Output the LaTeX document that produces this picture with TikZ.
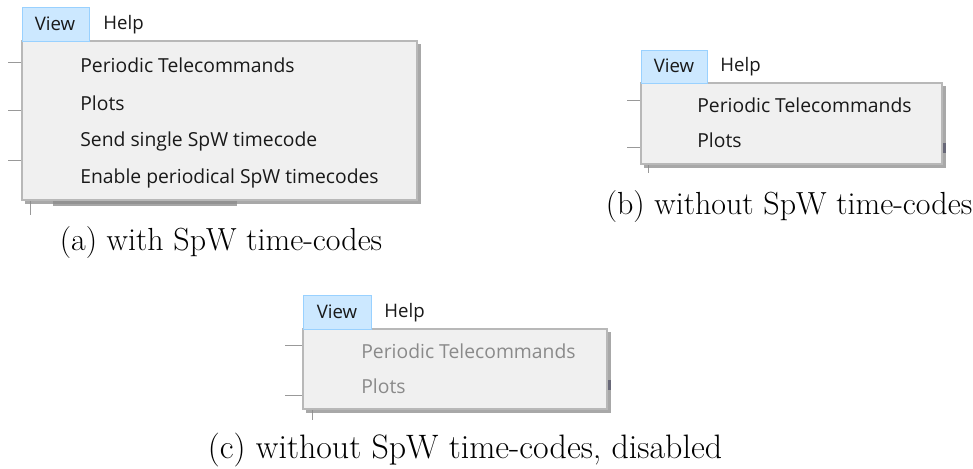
\documentclass[tikz,border=0pt]{standalone}
\usepackage{fontspec}
\newfontfamily\uifont{Open Sans}
\usetikzlibrary{positioning}

\definecolor{hiblue}{HTML}{CCE8FF}
\definecolor{hiedge}{HTML}{99D1FF}
\definecolor{menubg}{HTML}{F0F0F0}
\definecolor{menuedge}{HTML}{B8B8B8}
\definecolor{shade}{HTML}{8C8C8C}
\definecolor{dimtext}{HTML}{8A8A8A}

\begin{document}
\begin{tikzpicture}[x=0.02cm,y=-0.02cm,
    menu box/.style={fill=menubg,draw=menuedge,line width=0.6pt},
    menu shade/.style={fill=shade,draw=none,opacity=0.75},
    hi box/.style={fill=hiblue,draw=hiedge,line width=0.5pt},
    bar text/.style={font=\uifont\fontsize{10.6}{12}\selectfont,text=black!90,inner sep=0pt},
    item/.style={font=\uifont\fontsize{11}{13}\selectfont,text=black!90,anchor=west,inner sep=0pt},
    dim item/.style={item,text=dimtext},
    bg line/.style={draw=black!40,line width=0.5pt},
    caption/.style={font=\fontsize{18.2}{22}\selectfont,inner sep=0pt}]

  \useasboundingbox[fill=white] (0,0) rectangle (973,468);

  % (a) with time-codes
  \draw[bg line] (8,62) -- (22,62) (8,110) -- (22,110) (8,160) -- (22,160);
  \draw[bg line] (30,200) -- (30,215);
  \fill[black!35] (53,200) rectangle (237,206);
  \fill[menu shade] (25,44) rectangle (421,204);
  \draw[menu box] (22,41) rectangle (417,200);
  \draw[hi box] (22,7) rectangle (89,41);
  \node[bar text] (viewA) at (55,24) {View};
  \node[bar text,anchor=west] (helpA) at (103,25) {Help};
  \node[item] (tcA) at (80,65) {Periodic Telecommands};
  \node[item] (plotA) at (80,103) {Plots};
  \node[item] (sendA) at (80,141) {Send single SpW timecode};
  \node[item] (enA) at (80,178) {Enable periodical SpW timecodes};
  \node[caption] (capA) at (221,243) {(a) with SpW time-codes};

  % (b) without time-codes
  \draw[bg line] (627,100) -- (641,100) (627,147) -- (641,147);
  \draw[bg line] (648,164) -- (648,173);
  \fill[black!75!blue] (943,143) rectangle (946,153);
  \fill[menu shade] (644,86) rectangle (946,168);
  \draw[menu box] (641,83) rectangle (942,164);
  \draw[hi box] (641,50) rectangle (707,83);
  \node[bar text] (viewB) at (674,66) {View};
  \node[bar text,anchor=west] (helpB) at (720,67) {Help};
  \node[item] (tcB) at (697,105) {Periodic Telecommands};
  \node[item] (plotB) at (697,140) {Plots};
  \node[caption] (capB) at (789,207) {(b) without SpW time-codes};

  % (c) without time-codes, greyed out
  \draw[bg line] (285,345) -- (303,345) (285,395) -- (303,395);
  \draw[bg line] (312,409) -- (312,420);
  \fill[black!75!blue] (608,380) rectangle (611,390);
  \fill[menu shade] (306,332) rectangle (611,413);
  \draw[menu box] (303,329) rectangle (607,409);
  \draw[hi box] (303,295) rectangle (371,329);
  \node[bar text] (viewC) at (337,312) {View};
  \node[bar text,anchor=west] (helpC) at (384,313) {Help};
  \node[dim item] (tcC) at (361,351) {Periodic Telecommands};
  \node[dim item] (plotC) at (361,386) {Plots};
  \node[caption,font=\fontsize{19.3}{23}\selectfont] (capC) at (465,450) {(c) without SpW time-codes, disabled};
\end{tikzpicture}
\end{document}
